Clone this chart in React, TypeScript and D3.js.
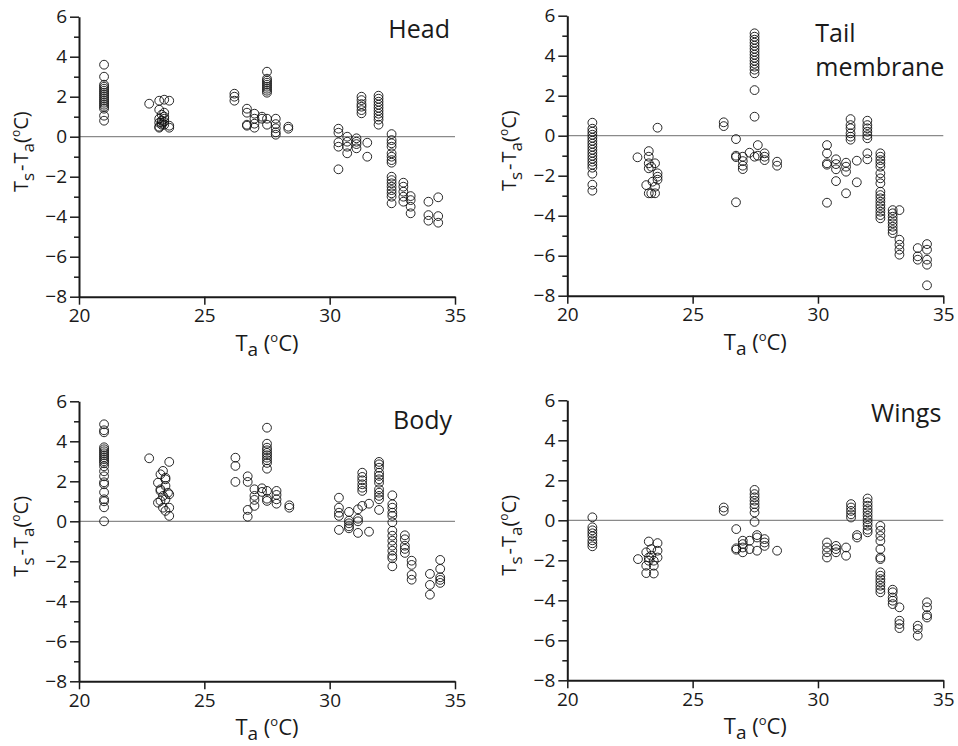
import React, { useEffect, useRef } from 'react';
import * as d3 from 'd3';

// each entry: [air temperature, list of Ts - Ta readings at that temperature]
type Group = [number, number[]];

const head: Group[] = [
  [21.0, [3.6, 3.0, 2.6, 2.5, 2.4, 2.3, 2.2, 2.1, 2.0, 1.9, 1.8, 1.7, 1.6, 1.5, 1.4, 1.05, 0.8]],
  [22.8, [1.65]],
  [23.2, [1.8, 1.35, 0.9, 0.7, 0.5, 0.45]],
  [23.3, [1.1, 0.8, 0.7, 0.6]],
  [23.4, [1.85, 1.2, 1.0, 0.9, 0.75, 0.6]],
  [23.6, [1.8, 0.55, 0.45]],
  [26.2, [2.15, 2.0, 1.8]],
  [26.7, [1.4, 1.2, 0.6, 0.55]],
  [27.0, [1.15, 0.9, 0.65, 0.45]],
  [27.3, [1.0, 0.9]],
  [27.5, [3.25, 2.9, 2.8, 2.7, 2.6, 2.5, 2.4, 2.3, 2.2, 0.9, 0.6]],
  [27.85, [0.9, 0.63, 0.42, 0.22, 0.1]],
  [28.35, [0.5, 0.4]],
  [30.35, [0.4, 0.2, -0.28, -0.5, -1.63]],
  [30.7, [0.0, -0.25, -0.5, -0.83]],
  [31.07, [-0.08, -0.25, -0.37, -0.58]],
  [31.27, [2.0, 1.83, 1.63, 1.5, 1.33, 1.17]],
  [31.5, [-0.3, -1.0]],
  [31.95, [2.05, 1.9, 1.75, 1.6, 1.45, 1.3, 1.15, 1.0, 0.85, 0.6]],
  [32.47, [0.13, -0.17, -0.33, -0.5, -0.83, -1.0, -1.17, -1.3, -2.0, -2.17, -2.33, -2.5, -2.67, -2.83, -3.0, -3.33]],
  [32.94, [-2.3, -2.5, -2.75, -3.0, -3.25]],
  [33.23, [-2.97, -3.17, -3.5, -3.83]],
  [33.94, [-3.25, -3.92, -4.2]],
  [34.33, [-3.03, -3.97, -4.3]],
];

const tail: Group[] = [
  [21.0, [0.65, 0.35, 0.2, 0.05, -0.1, -0.25, -0.4, -0.55, -0.7, -0.85, -1.0, -1.15, -1.3, -1.45, -1.6, -1.9, -2.45, -2.75]],
  [22.8, [-1.08]],
  [23.15, [-2.47]],
  [23.25, [-0.77, -1.38, -1.63, -2.88, -1.05]],
  [23.35, [-2.88, -1.55]],
  [23.4, [-2.3]],
  [23.5, [-2.55, -2.88, -1.38]],
  [23.6, [0.4, -2.05, -1.88, -2.2]],
  [26.24, [0.67, 0.48]],
  [26.73, [-0.17, -1.0, -1.07, -3.33]],
  [27.0, [-1.05, -1.27, -1.5, -1.67]],
  [27.27, [-0.85]],
  [27.47, [5.12, 4.95, 4.8, 4.65, 4.5, 4.35, 4.2, 4.05, 3.9, 3.75, 3.6, 3.45, 3.3, 3.12, 2.28, 0.95, -1.05]],
  [27.6, [-0.47, -1.0]],
  [27.87, [-0.88, -1.05, -1.22]],
  [28.37, [-1.3, -1.5]],
  [30.36, [-0.47, -0.88, -1.38, -1.45, -3.35]],
  [30.72, [-1.18, -1.42, -1.68, -2.27]],
  [31.12, [-1.35, -1.55, -1.8, -2.88]],
  [31.3, [0.83, 0.53, 0.37, 0.12, -0.05, -0.2]],
  [31.55, [-1.25, -2.33]],
  [31.97, [0.75, 0.53, 0.37, 0.2, 0.03, -0.13, -0.88, -1.18]],
  [32.49, [-0.88, -1.05, -1.22, -1.38, -1.55, -1.88, -2.13, -2.38, -2.8, -2.97, -3.13, -3.3, -3.47, -3.63, -3.8, -3.97, -4.13]],
  [32.98, [-3.72, -3.88, -4.05, -4.22, -4.38, -4.55, -4.72, -4.87]],
  [33.25, [-3.72, -5.2, -5.45, -5.7, -5.95]],
  [33.98, [-5.62, -6.03, -6.2]],
  [34.35, [-5.42, -5.7, -6.2, -6.45, -7.48]],
];

const body: Group[] = [
  [21.0, [4.85, 4.55, 4.45, 3.7, 3.6, 3.5, 3.4, 3.3, 3.2, 3.1, 3.0, 2.9, 2.75, 2.5, 2.25, 1.95, 1.85, 1.45, 1.1, 1.0, 0.7, 0.0]],
  [22.8, [3.15]],
  [23.15, [1.93, 0.93]],
  [23.25, [2.35, 1.6, 1.52, 1.02]],
  [23.35, [2.52, 1.27, 0.68]],
  [23.45, [2.1, 1.77, 0.52, 2.18, 1.1]],
  [23.55, [1.43]],
  [23.6, [2.97, 0.68, 0.27, 1.35]],
  [26.24, [3.18, 2.77, 1.97]],
  [26.73, [2.25, 1.97, 0.57, 0.23]],
  [27.0, [1.6, 1.27, 1.07, 0.77]],
  [27.3, [1.65, 1.47]],
  [27.5, [4.68, 3.88, 3.68, 3.55, 3.42, 3.3, 3.18, 3.05, 2.92, 2.63, 1.52, 1.13, 1.02]],
  [27.88, [1.52, 1.32, 1.1, 0.88]],
  [28.39, [0.8, 0.68]],
  [30.37, [1.18, 0.68, 0.43, 0.27, -0.43]],
  [30.77, [0.47, 0.03, -0.1, -0.25, -0.35]],
  [31.13, [0.6, 0.13, 0.0, -0.58]],
  [31.3, [2.43, 2.22, 2.05, 1.85, 1.68, 1.52, 0.77]],
  [31.57, [0.88, -0.52]],
  [31.97, [2.97, 2.85, 2.68, 2.43, 2.27, 2.1, 1.93, 1.6, 1.43, 1.27, 1.1, 0.57]],
  [32.5, [1.3, 0.85, 0.68, 0.43, 0.27, -0.05, -0.47, -0.72, -0.97, -1.22, -1.47, -1.72, -1.85, -2.25]],
  [33.0, [-0.7, -0.9, -1.22, -1.38, -1.58]],
  [33.27, [-1.97, -2.18, -2.68, -2.92]],
  [34.0, [-2.63, -3.18, -3.67]],
  [34.41, [-1.93, -2.38, -2.8, -2.93, -3.08]],
];

const wings: Group[] = [
  [21.0, [0.15, -0.35, -0.5, -0.65, -0.8, -1.0, -1.15, -1.3]],
  [22.82, [-1.94]],
  [23.15, [-1.6, -2.27, -2.64]],
  [23.25, [-1.06, -2.02, -1.86]],
  [23.35, [-1.77, -1.44]],
  [23.45, [-2.66, -2.27, -2.02]],
  [23.6, [-1.14, -1.52, -1.86]],
  [26.24, [0.64, 0.47]],
  [26.74, [-0.44, -1.4, -1.47]],
  [27.0, [-1.02, -1.19, -1.36, -1.6]],
  [27.27, [-1.02, -1.44]],
  [27.47, [1.52, 1.31, 1.15, 0.98, 0.81, 0.64, 0.39, -0.08]],
  [27.57, [-0.74, -0.86, -1.52]],
  [27.87, [-0.94, -1.11, -1.28]],
  [28.37, [-1.52]],
  [30.36, [-1.11, -1.36, -1.6, -1.86]],
  [30.72, [-1.28, -1.44, -1.6]],
  [31.12, [-1.36, -1.77]],
  [31.32, [0.81, 0.64, 0.47, 0.3, 0.14]],
  [31.56, [-0.74, -0.86]],
  [31.98, [1.09, 0.9, 0.73, 0.56, 0.4, 0.23, 0.06, -0.1, -0.27, -0.47, -0.6]],
  [32.49, [-0.28, -0.52, -0.78, -1.03, -1.44, -1.86, -1.94, -2.6, -2.77, -2.94, -3.1, -3.27, -3.44, -3.6]],
  [32.98, [-3.47, -3.6, -3.86, -4.02, -4.19]],
  [33.25, [-4.35, -5.02, -5.19, -5.39]],
  [33.98, [-5.27, -5.44, -5.77]],
  [34.35, [-4.1, -4.35, -4.74, -4.86]],
];

const xTicks = [20, 25, 30, 35];
const yMajor = [-8, -6, -4, -2, 0, 2, 4, 6];
const yMinor = [-7, -5, -3, -1, 1, 3, 5];

const W = 376;
const H = 280;
const FONT = '"Open Sans", "Noto Sans", sans-serif';
const INK = '#1a1a1a';

function Panel({ data, left, top, title }: { data: Group[]; left: number; top: number; title: { lines: string[]; x: number; y: number; anchor: string } }) {
  const ref = useRef<SVGGElement>(null);

  useEffect(() => {
    const g = d3.select(ref.current);
    g.selectAll('*').remove();

    const x = d3.scaleLinear().domain([20, 35]).range([0, W]);
    const y = d3.scaleLinear().domain([-8, 6]).range([H, 0]);

    // zero reference line
    g.append('line')
      .attr('x1', x(20)).attr('x2', x(35))
      .attr('y1', y(0)).attr('y2', y(0))
      .attr('stroke', '#8a8a8a').attr('stroke-width', 1.2);

    // points
    const pts = data.flatMap(([t, vals]) => vals.map(v => [t, v]));
    g.append('g').selectAll('circle')
      .data(pts)
      .enter().append('circle')
      .attr('cx', d => x(d[0]))
      .attr('cy', d => y(d[1]))
      .attr('r', 4.4)
      .attr('fill', 'none')
      .attr('stroke', '#111')
      .attr('stroke-width', 0.9);

    // y minor ticks
    g.append('g')
      .call(d3.axisLeft(y).tickValues(yMinor).tickSize(5).tickSizeOuter(0).tickFormat(() => ''))
      .call(s => s.select('.domain').remove())
      .call(s => s.selectAll('line').attr('stroke', INK).attr('stroke-width', 1.5));

    // y major ticks + domain
    g.append('g')
      .call(d3.axisLeft(y).tickValues(yMajor).tickSize(9).tickSizeOuter(0).tickPadding(3).tickFormat(d3.format('d')))
      .call(s => s.select('.domain').attr('stroke', INK).attr('stroke-width', 2))
      .call(s => s.selectAll('line').attr('stroke', INK).attr('stroke-width', 1.5))
      .call(s => s.selectAll('text').attr('font-size', 19).attr('font-family', FONT).attr('fill', INK));

    // x axis
    g.append('g')
      .attr('transform', `translate(0,${H})`)
      .call(d3.axisBottom(x).tickValues(xTicks).tickSize(8).tickSizeOuter(0).tickPadding(4))
      .call(s => s.select('.domain').attr('stroke', INK).attr('stroke-width', 2))
      .call(s => s.selectAll('line').attr('stroke', INK).attr('stroke-width', 1.5))
      .call(s => s.selectAll('text').attr('font-size', 19).attr('font-family', FONT).attr('fill', INK));

    // x label
    const xl = g.append('text')
      .attr('x', W / 2).attr('y', H + 54)
      .attr('text-anchor', 'middle')
      .attr('font-family', FONT).attr('font-size', 22).attr('fill', INK);
    xl.append('tspan').text('T');
    xl.append('tspan').attr('dy', 5).attr('font-size', 19).text('a');
    xl.append('tspan').attr('dy', -5).text(' (');
    xl.append('tspan').attr('dy', -9).attr('font-size', 13).text('o');
    xl.append('tspan').attr('dy', 9).text('C)');

    // y label
    const yl = g.append('text')
      .attr('transform', `translate(-51,${H / 2 - 5}) rotate(-90)`)
      .attr('text-anchor', 'middle')
      .attr('font-family', FONT).attr('font-size', 20).attr('fill', INK);
    yl.append('tspan').text('T');
    yl.append('tspan').attr('dy', 6).attr('font-size', 17).text('s');
    yl.append('tspan').attr('dy', -6).attr('dx', 2).text('-');
    yl.append('tspan').attr('dx', 1).text('T');
    yl.append('tspan').attr('dy', 6).attr('font-size', 17).text('a');
    yl.append('tspan').attr('dy', -6).text('(');
    yl.append('tspan').attr('dy', -8).attr('font-size', 12).text('o');
    yl.append('tspan').attr('dy', 8).text('C)');

    // panel title
    const tt = g.append('text')
      .attr('text-anchor', title.anchor)
      .attr('font-family', FONT).attr('font-size', 25).attr('fill', INK);
    title.lines.forEach((line, i) => {
      tt.append('tspan').attr('x', title.x).attr('y', title.y + i * 34).text(line);
    });
  }, [data]);

  return <g ref={ref} transform={`translate(${left},${top})`} />;
}

export default function App() {
  return (
    <svg width={958} height={746} style={{ position: 'absolute', left: 0, top: 0, background: '#fff' }}>
      <Panel data={head} left={79} top={16.7} title={{ lines: ['Head'], x: W - 5, y: 21.5, anchor: 'end' }} />
      <Panel data={tail} left={567.3} top={15.7} title={{ lines: ['Tail', 'membrane'], x: 248, y: 26, anchor: 'start' }} />
      <Panel data={body} left={79} top={401.3} title={{ lines: ['Body'], x: W - 3, y: 27.5, anchor: 'end' }} />
      <Panel data={wings} left={567.3} top={400.3} title={{ lines: ['Wings'], x: W - 2, y: 21.5, anchor: 'end' }} />
    </svg>
  );
}
